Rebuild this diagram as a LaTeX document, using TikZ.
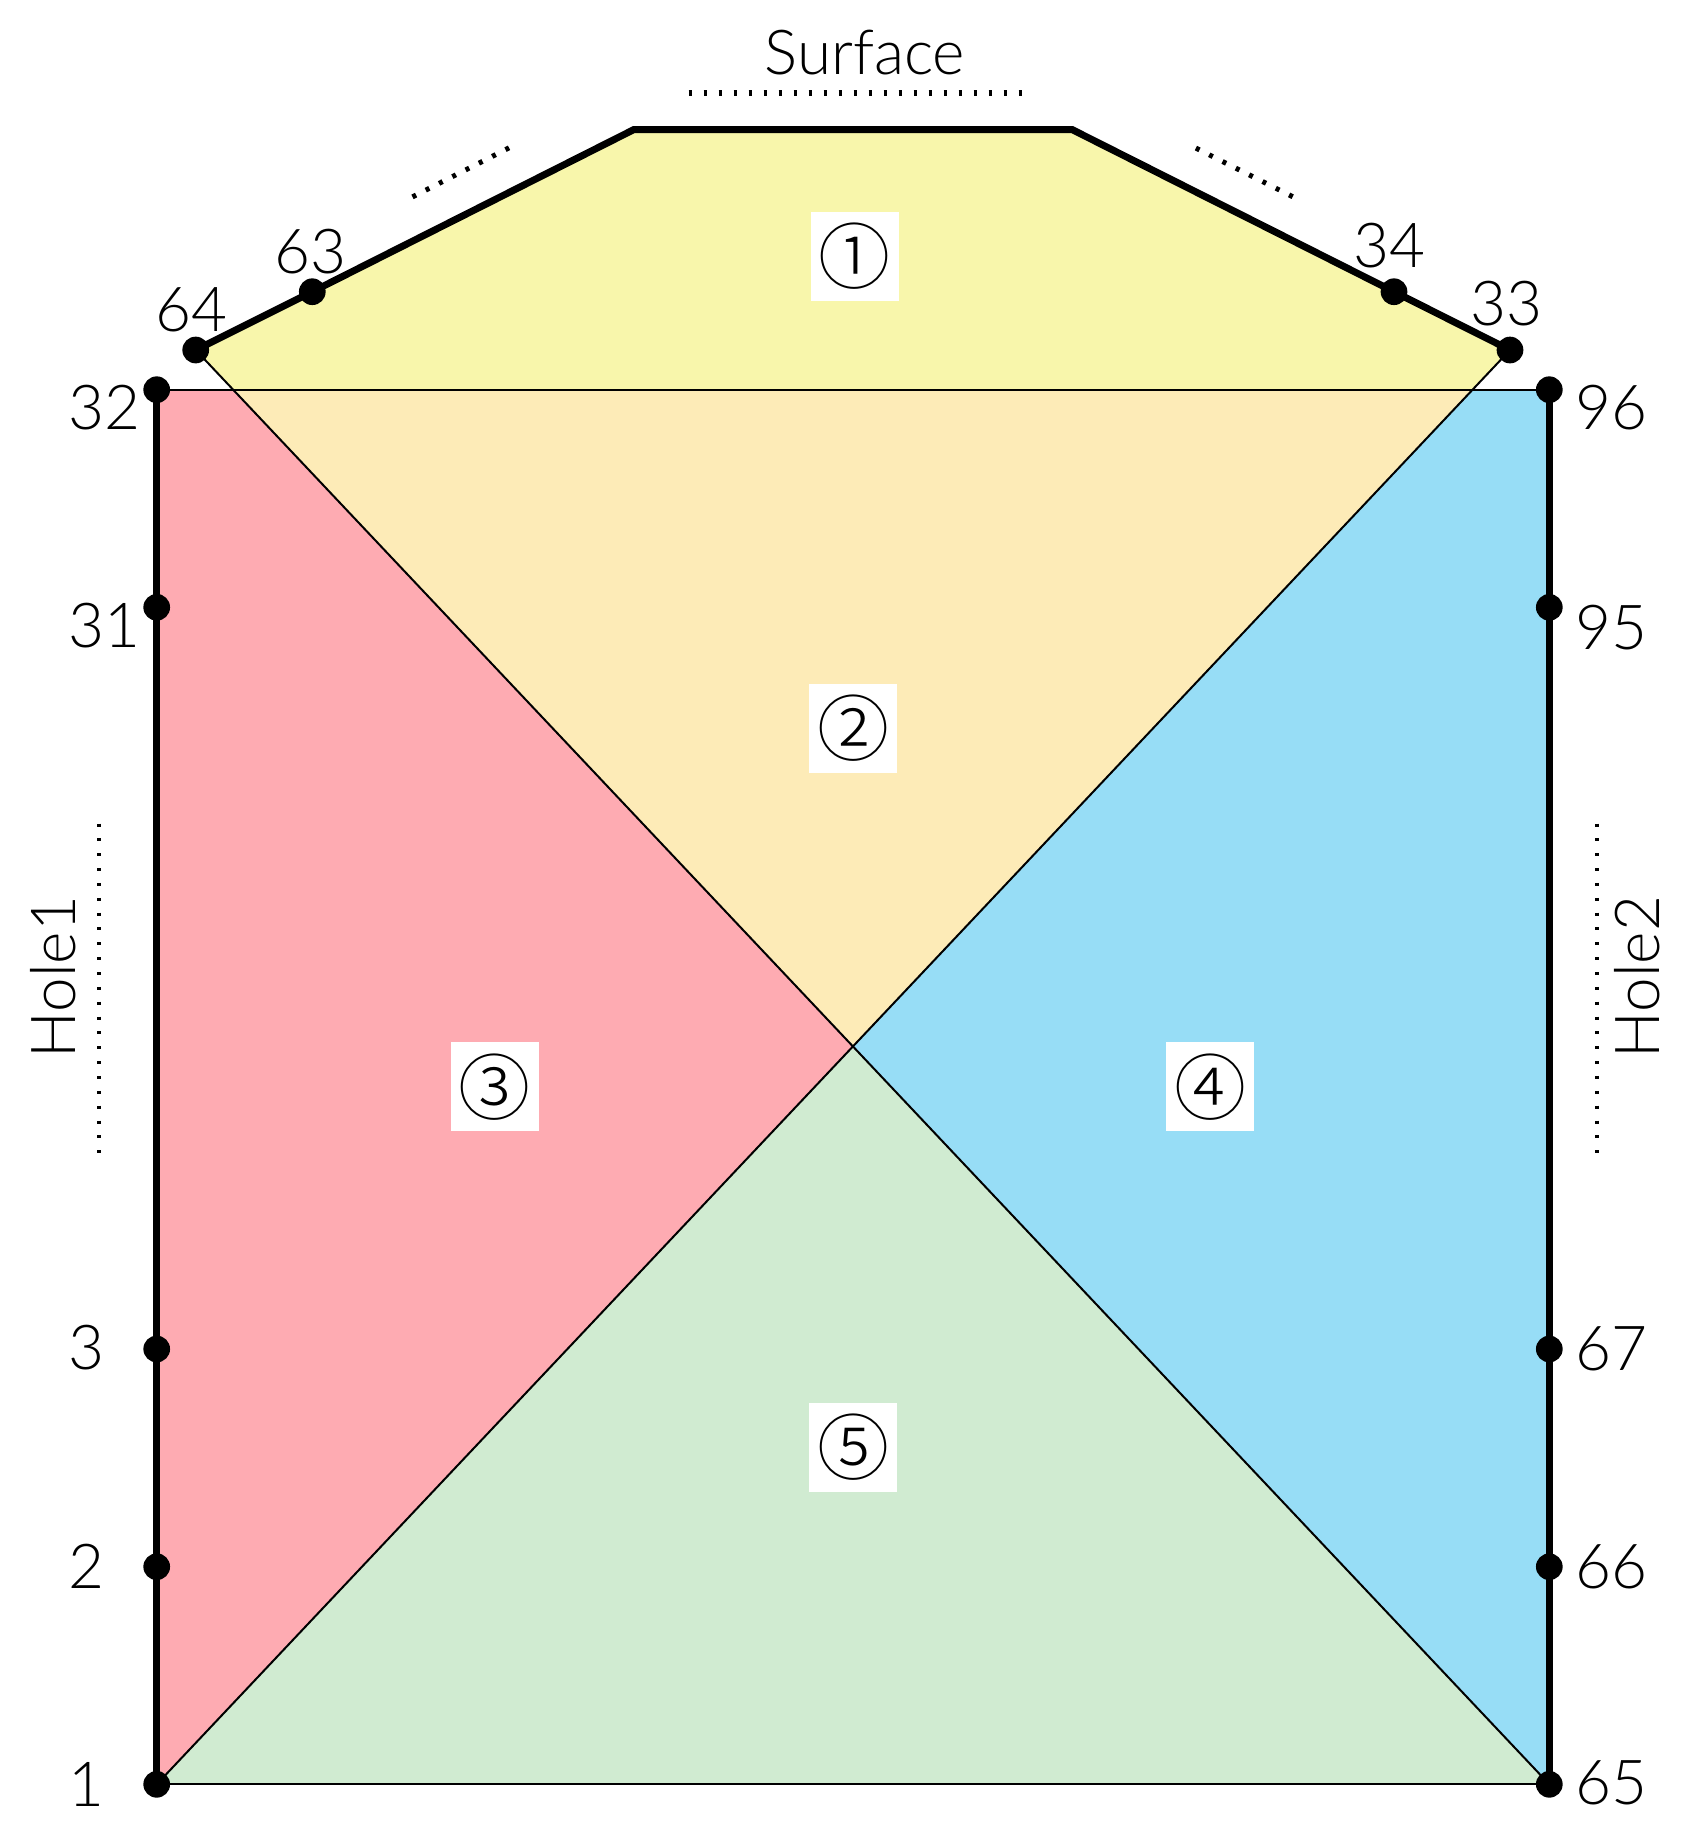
\documentclass[tikz,border=0pt]{standalone}
\usepackage{fontspec}
\IfFontExistsTF{Lato Light}{\setmainfont{Lato Light}}{\setmainfont{Lato}}
\IfFontExistsTF{Noto Sans CJK JP Light}{\newfontfamily\circfont{Noto Sans CJK JP Light}}{\newfontfamily\circfont{Noto Sans CJK JP}}
\definecolor{cyel}{HTML}{F8F6AB}
\definecolor{corg}{HTML}{FDEBB7}
\definecolor{cpnk}{HTML}{FEABB2}
\definecolor{cblu}{HTML}{97DDF6}
\definecolor{cgrn}{HTML}{D0EBD1}
\begin{document}
\begin{tikzpicture}[x=1pt,y=-1pt,
  thinln/.style={line width=2pt,black},
  thickln/.style={line width=7pt,black,line join=miter},
  dotnode/.style={circle,fill=black,inner sep=0pt,minimum size=26.7pt},
  lbl/.style={font=\fontsize{62}{70}\selectfont,inner sep=0pt},
  circlbl/.style={fill=white,inner sep=0pt,minimum width=88pt,minimum height=89pt,font=\circfont\fontsize{72}{80}\selectfont},
  dotted1/.style={line width=6pt,dash pattern=on 3pt off 12pt},
  dotted2/.style={line width=4pt,dash pattern=on 3pt off 11.85pt},
  dotted3/.style={line width=5pt,dash pattern=on 4pt off 10.9pt}]
\useasboundingbox (0,0) rectangle (1701,1848);
% points
\coordinate (p1) at (156.7,1784.3);
\coordinate (p2) at (156.7,1566.7);
\coordinate (p3) at (156.7,1349);
\coordinate (p31) at (156.7,607.3);
\coordinate (p32) at (156.7,389.7);
\coordinate (p65) at (1549.3,1784.3);
\coordinate (p66) at (1549.3,1566.7);
\coordinate (p67) at (1549.3,1349);
\coordinate (p95) at (1549.3,607.3);
\coordinate (p96) at (1549.3,389.7);
\coordinate (p64) at (195.7,350);
\coordinate (p63) at (312.3,291.7);
\coordinate (tl) at (634,129.5);
\coordinate (tr) at (1072,129.5);
\coordinate (p34) at (1394,291.7);
\coordinate (p33) at (1510,350);
\coordinate (L) at (intersection of p64--p65 and p32--p96);
\coordinate (R) at (intersection of p33--p1 and p32--p96);
\coordinate (C) at (intersection of p64--p65 and p33--p1);
% regions
\fill[cyel] (p64) -- (p63) -- (tl) -- (tr) -- (p34) -- (p33) -- (R) -- (L) -- cycle;
\fill[corg] (L) -- (R) -- (C) -- cycle;
\fill[cpnk] (p32) -- (L) -- (C) -- (p1) -- cycle;
\fill[cblu] (R) -- (p96) -- (p65) -- (C) -- cycle;
\fill[cgrn] (p1) -- (C) -- (p65) -- cycle;
% thin edges
\draw[thinln] (p64) -- (p65);
\draw[thinln] (p33) -- (p1);
\draw[thinln] (p32) -- (p96);
\draw[thinln] (p1) -- (p65);
% thick boundaries
\draw[thickln] (p64) -- (p63) -- (tl) -- (tr) -- (p34) -- (p33);
\draw[thickln] (p32) -- (p1);
\draw[thickln] (p96) -- (p65);
% dots
\foreach \p in {p1,p2,p3,p31,p32,p65,p66,p67,p95,p96,p64,p63,p34,p33}
  \node[dotnode] (d\p) at (\p) {};
% point labels
\node[lbl,anchor=west] (l32) at (68,408) {32};
\node[lbl,anchor=west] (l31) at (68,626) {31};
\node[lbl,anchor=west] (l3) at (68,1348) {3};
\node[lbl,anchor=west] (l2) at (68,1566) {2};
\node[lbl,anchor=west] (l1) at (68,1784) {1};
\node[lbl,anchor=west] (l96) at (1575,408) {96};
\node[lbl,anchor=west] (l95) at (1575,628) {95};
\node[lbl,anchor=west] (l67) at (1575,1349) {67};
\node[lbl,anchor=west] (l66) at (1575,1567) {66};
\node[lbl,anchor=west] (l65) at (1575,1783) {65};
\node[lbl] (l64) at (191.7,309.5) {64};
\node[lbl] (l63) at (310,251.7) {63};
\node[lbl] (l34) at (1389,246) {34};
\node[lbl] (l33) at (1506.5,303.3) {33};
% region labels
\node[circlbl] (r1) at (854.6,256.4) {①};
\node[circlbl] (r2) at (853.4,728.5) {②};
\node[circlbl] (r3) at (494.5,1086.8) {③};
\node[circlbl] (r4) at (1210,1086.8) {④};
\node[circlbl] (r5) at (853.4,1447.5) {⑤};
% annotations
\node[lbl] (surf) at (865,53) {Surface};
\node[lbl,rotate=90] (hole1) at (53,977) {Hole1};
\node[lbl,rotate=90] (hole2) at (1637,977) {Hole2};
\draw[dotted1] (688.5,93.3) -- (1021.5,93.3);
\draw[dotted2] (99,823.5) -- (99,1153.2);
\draw[dotted2] (1597,823.5) -- (1597,1153.2);
\draw[dotted3] (412.5,196.9) -- (509.1,147.8);
\draw[dotted3] (1195.9,148.1) -- (1293.1,196.9);
\end{tikzpicture}
\end{document}
